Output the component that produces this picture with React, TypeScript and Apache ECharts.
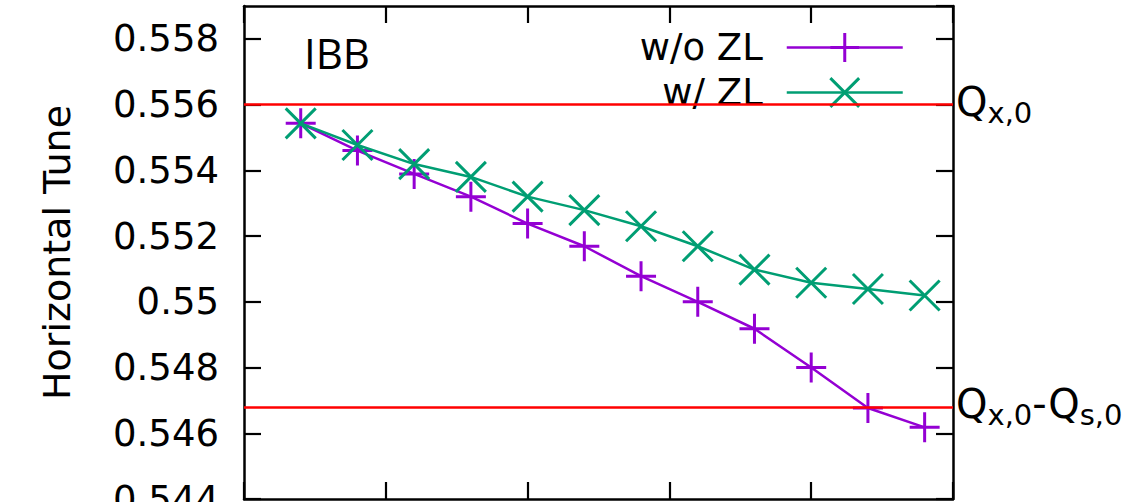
import React, { useEffect, useRef } from "react";
import * as echarts from "echarts";

// Bunch position along the train and the measured horizontal tune
const bunchIndex = [1, 2, 3, 4, 5, 6, 7, 8, 9, 10, 11, 12];
const tuneWithoutZL = [0.55543, 0.5546, 0.55389, 0.5532, 0.55238, 0.55169, 0.55078, 0.55, 0.54918, 0.548, 0.54677, 0.54618];
const tuneWithZL = [0.55543, 0.55477, 0.55419, 0.5538, 0.5532, 0.55279, 0.5523, 0.55169, 0.55098, 0.55058, 0.55039, 0.55019];

// Reference tunes drawn as horizontal lines
const bareTune = 0.556; // Qx,0
const shiftedTune = 0.5468; // Qx,0 - Qs,0

const seriesNames = ["w/o ZL", "w/ ZL"];
const panelTitle = "IBB";
const yAxisTitle = "Horizontal Tune";

const Y_MIN = 0.544;
const Y_MAX = 0.559;
const Y_STEP = 0.002;
const X_MIN = 0;
const X_MAX = 12.5;
const X_STEP = 2.5;

const PURPLE = "#9400d3";
const GREEN = "#009e73";
const RED = "#ff0000";
const FONT = "DejaVu Sans";

const PLUS = "path://M0,15L30,15M15,0L15,30";
const CROSS = "path://M0,0L30,30M30,0L0,30";

const toPairs = (ys: number[]) => bunchIndex.map((x, i) => [x, ys[i]]);

const frameAxis = {
  axisLine: { show: true, onZero: false, lineStyle: { color: "#000", width: 2.5 } },
  axisTick: { show: true, inside: true, length: 17, lineStyle: { color: "#000", width: 2.2 } },
  splitLine: { show: false },
};

const richQ = {
  q: { fontSize: 40, fontFamily: FONT, color: "#000", lineHeight: 46, verticalAlign: "top" },
  s: { fontSize: 29, fontFamily: FONT, color: "#000", lineHeight: 24, verticalAlign: "bottom" },
};

export default function App() {
  const ref = useRef<HTMLDivElement>(null);

  useEffect(() => {
    if (!ref.current) return;
    const chart = echarts.init(ref.current, undefined, { renderer: "svg" });
    chart.setOption({
      animation: false,
      backgroundColor: "#fff",
      textStyle: { fontFamily: FONT, color: "#000" },
      title: {
        text: panelTitle,
        left: 304,
        top: 31,
        padding: 0,
        textStyle: { fontFamily: "Open Sans", fontSize: 42, fontWeight: "normal", color: "#000" },
      },
      legend: {
        orient: "vertical",
        align: "right",
        right: 220,
        top: 29,
        padding: 0,
        itemGap: 8,
        itemWidth: 116,
        itemHeight: 36,
        selectedMode: false,
        textStyle: { fontFamily: FONT, fontSize: 37, color: "#000", lineHeight: 36, padding: [0, 19, 0, 0] },
        data: [
          { name: seriesNames[0], itemStyle: { color: PURPLE, borderColor: PURPLE, borderWidth: 3 }, lineStyle: { color: PURPLE, width: 2.5 } },
          { name: seriesNames[1], itemStyle: { color: GREEN, borderColor: GREEN, borderWidth: 3 }, lineStyle: { color: GREEN, width: 2.5 } },
        ],
      },
      grid: { left: 244, right: 171, top: 6, bottom: 3, containLabel: false, outerBoundsMode: "none" },
      xAxis: [
        {
          type: "value",
          position: "bottom",
          min: X_MIN,
          max: X_MAX,
          interval: X_STEP,
          axisLabel: { show: false },
          ...frameAxis,
        },
        {
          type: "value",
          position: "top",
          min: X_MIN,
          max: X_MAX,
          interval: X_STEP,
          axisLabel: { show: false },
          ...frameAxis,
        },
      ],
      yAxis: [
        {
          type: "value",
          position: "left",
          min: Y_MIN,
          max: Y_MAX,
          interval: Y_STEP,
          name: yAxisTitle,
          nameLocation: "middle",
          nameGap: 168,
          nameTextStyle: { fontFamily: FONT, fontSize: 38, color: "#000" },
          axisLabel: {
            show: true,
            margin: 25,
            fontFamily: FONT,
            fontSize: 37,
            color: "#000",
            formatter: (v: number) => String(parseFloat(v.toFixed(3))),
          },
          ...frameAxis,
        },
        {
          type: "value",
          position: "right",
          min: Y_MIN,
          max: Y_MAX,
          interval: Y_STEP,
          axisLabel: { show: false },
          ...frameAxis,
        },
      ],
      series: [
        {
          name: seriesNames[0],
          type: "line",
          data: toPairs(tuneWithoutZL),
          symbol: PLUS,
          symbolSize: 30,
          showAllSymbol: true,
          lineStyle: { color: PURPLE, width: 2.5 },
          itemStyle: { color: PURPLE, borderColor: PURPLE, borderWidth: 3 },
          emphasis: { disabled: true },
          z: 3,
          markLine: {
            silent: true,
            precision: 5,
            symbol: ["none", "none"],
            lineStyle: { color: RED, width: 2.6, type: "solid" },
            label: {
              show: true,
              position: "end",
              distance: 3,
              rich: richQ,
            },
            data: [
              { yAxis: bareTune, label: { formatter: "{q|Q}{s|x,0}" } },
              { yAxis: shiftedTune, label: { formatter: "{q|Q}{s|x,0}{q|-Q}{s|s,0}" } },
            ],
          },
        },
        {
          name: seriesNames[1],
          type: "line",
          data: toPairs(tuneWithZL),
          symbol: CROSS,
          symbolSize: 30,
          showAllSymbol: true,
          lineStyle: { color: GREEN, width: 2.5 },
          itemStyle: { color: GREEN, borderColor: GREEN, borderWidth: 3 },
          emphasis: { disabled: true },
          z: 4,
        },
      ],
    });
    return () => chart.dispose();
  }, []);

  return (
    <div
      ref={ref}
      style={{ position: "absolute", left: 0, top: 0, width: 1124, height: 502, background: "#fff" }}
    />
  );
}
